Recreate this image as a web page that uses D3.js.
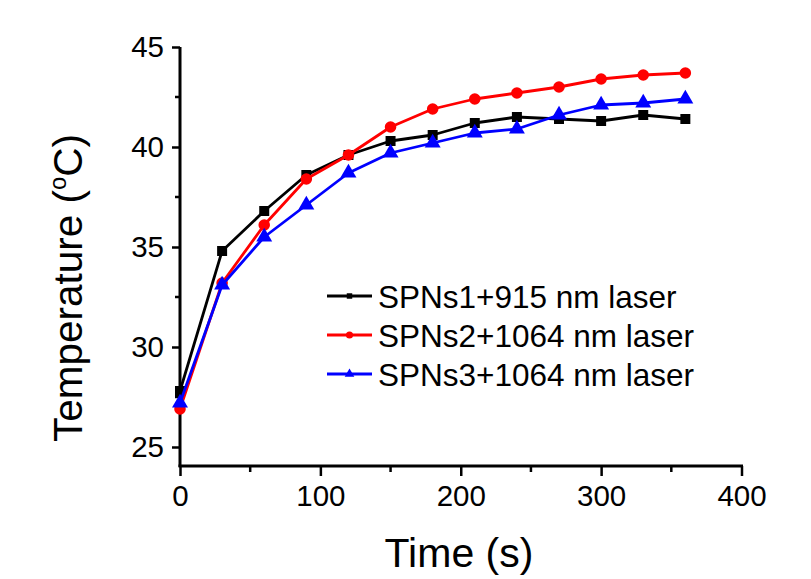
<!DOCTYPE html>
<html>
<head>
<meta charset="utf-8">
<script src="https://cdn.jsdelivr.net/npm/d3@7"></script>
<style>
  html, body { margin: 0; padding: 0; background: #fff; }
  svg { display: block; font-family: "Liberation Sans", Arial, sans-serif; }
</style>
</head>
<body>
<svg id="chart" width="811" height="579"></svg>
<script>
// Heating time points (s)
const times = [0, 30, 60, 90, 120, 150, 180, 210, 240, 270, 300, 330, 360];

// Temperature readings (°C) for each sample / laser pair
const spns1_915 = [27.8, 34.8, 36.8, 38.6, 39.6, 40.3, 40.6, 41.2, 41.5, 41.4, 41.3, 41.6, 41.4];
const spns2_1064 = [26.9, 33.2, 36.1, 38.4, 39.6, 41.0, 41.9, 42.4, 42.7, 43.0, 43.4, 43.6, 43.7];
const spns3_1064 = [27.2, 33.1, 35.5, 37.1, 38.7, 39.7, 40.2, 40.7, 40.9, 41.6, 42.1, 42.2, 42.4];

const seriesNames = ["SPNs1+915 nm laser", "SPNs2+1064 nm laser", "SPNs3+1064 nm laser"];

// Axis ticks
const xMajorTicks = [0, 100, 200, 300, 400];
const xMinorTicks = [50, 150, 250, 350];
const yMajorTicks = [25, 30, 35, 40, 45];
const yMinorTicks = [27.5, 32.5, 37.5, 42.5];

const series = [
  { name: seriesNames[0], values: spns1_915, color: "#000000", symbol: d3.symbolSquare, size: 100, legendSize: 30 },
  { name: seriesNames[1], values: spns2_1064, color: "#ff0000", symbol: d3.symbolCircle, size: 105, legendSize: 40 },
  { name: seriesNames[2], values: spns3_1064, color: "#0000ff", symbol: d3.symbolTriangle, size: 110, legendSize: 40 }
];

const svg = d3.select("#chart");

const x = d3.scaleLinear().domain([0, 400]).range([180, 741.5]);
const y = d3.scaleLinear().domain([24, 45]).range([467, 47]);

const axisColor = "#000";

// X axis
const gx = svg.append("g").attr("transform", `translate(0,${y(24) - 1})`);
gx.call(d3.axisBottom(x).tickValues(xMajorTicks).tickSize(10).tickPadding(9).tickFormat(d3.format("d")))
  .call(g => g.select(".domain").attr("stroke-width", 3).attr("d", `M${x(0) - 1.5},0H${x(400) + 1.5}`))
  .call(g => g.selectAll(".tick line").attr("stroke-width", 2.5))
  .call(g => g.selectAll(".tick text").attr("font-size", 29.5).attr("fill", "#000")
    .attr("font-family", "Liberation Sans, Arial, sans-serif"));
gx.selectAll(".minor").data(xMinorTicks).join("line")
  .attr("class", "minor")
  .attr("x1", d => x(d)).attr("x2", d => x(d))
  .attr("y1", 0).attr("y2", 6)
  .attr("stroke", axisColor).attr("stroke-width", 2.5);

// Y axis
const gy = svg.append("g").attr("transform", `translate(${x(0)},0)`);
gy.call(d3.axisLeft(y).tickValues(yMajorTicks).tickSize(8).tickPadding(8).tickFormat(d3.format("d")))
  .call(g => g.select(".domain").attr("stroke-width", 3).attr("d", `M0,${y(45)}V${y(24)}`))
  .call(g => g.selectAll(".tick line").attr("stroke-width", 2.5))
  .call(g => g.selectAll(".tick text").attr("font-size", 29.5).attr("fill", "#000")
    .attr("font-family", "Liberation Sans, Arial, sans-serif"));
gy.selectAll(".minor").data(yMinorTicks).join("line")
  .attr("class", "minor")
  .attr("x1", -5).attr("x2", 0)
  .attr("y1", d => y(d)).attr("y2", d => y(d))
  .attr("stroke", axisColor).attr("stroke-width", 2.5);

// Data lines and markers
const line = d3.line().x((d, i) => x(times[i])).y(d => y(d));
series.forEach(s => {
  const g = svg.append("g");
  g.append("path")
    .attr("d", line(s.values))
    .attr("fill", "none")
    .attr("stroke", s.color)
    .attr("stroke-width", 2.8)
    .attr("stroke-linejoin", "round");
  g.selectAll("path.pt").data(s.values).join("path")
    .attr("class", "pt")
    .attr("transform", (d, i) => `translate(${x(times[i])},${y(d)})`)
    .attr("d", d3.symbol().type(s.symbol).size(s.size))
    .attr("fill", s.color);
});

// Axis titles
svg.append("text")
  .attr("x", 459).attr("y", 567)
  .attr("text-anchor", "middle")
  .attr("font-size", 41)
  .attr("fill", "#000")
  .text("Time (s)");

const yTitle = svg.append("text")
  .attr("transform", "translate(82,288) rotate(-90)")
  .attr("text-anchor", "middle")
  .attr("font-size", 40.5)
  .attr("fill", "#000");
yTitle.append("tspan").text("Temperature (");
yTitle.append("tspan").attr("font-size", 24).attr("dy", -16).text("o");
yTitle.append("tspan").attr("dy", 16).text("C)");

// Legend
const legend = svg.append("g");
const legendY = [296, 335, 374];
series.forEach((s, i) => {
  const row = legend.append("g").attr("transform", `translate(0,${legendY[i]})`);
  row.append("line")
    .attr("x1", 327).attr("x2", 372)
    .attr("y1", 0).attr("y2", 0)
    .attr("stroke", s.color).attr("stroke-width", 2.8);
  row.append("path")
    .attr("transform", "translate(349.5,0)")
    .attr("d", d3.symbol().type(s.symbol).size(s.legendSize))
    .attr("fill", s.color);
  row.append("text")
    .attr("x", 378).attr("y", 11.5)
    .attr("font-size", 31.5)
    .attr("fill", "#000")
    .text(s.name);
});
</script>
</body>
</html>
